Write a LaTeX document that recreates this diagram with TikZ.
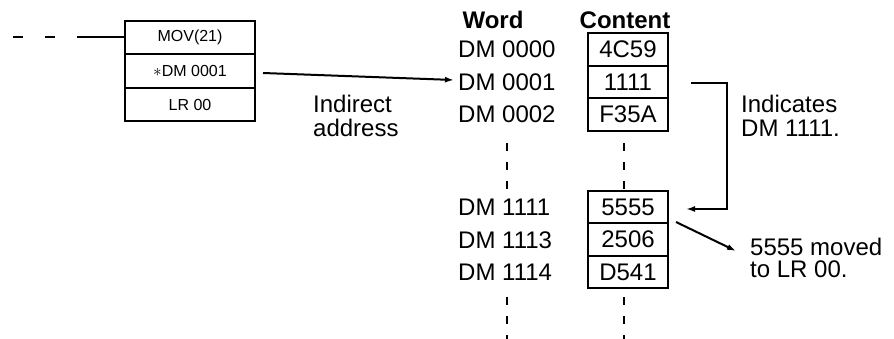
\documentclass[tikz,border=0pt]{standalone}
\usepackage{fontspec}
\setmainfont{Liberation Sans}
\usetikzlibrary{arrows.meta}
\tikzset{
  lbl/.style={anchor=base west, inner sep=0pt, font=\fontsize{24}{24}\selectfont},
  hdr/.style={anchor=base, inner sep=0pt, font=\fontsize{24}{24}\selectfont\bfseries},
  cell/.style={draw, line width=2.2pt, minimum width=80pt, minimum height=32.5pt, inner sep=0pt, font=\fontsize{24}{24}\selectfont},
  instr/.style={draw, line width=2.2pt, minimum width=130pt, minimum height=33.3pt, inner sep=0pt, font=\fontsize{16}{16}\selectfont},
  conn/.style={line width=2pt},
  arr/.style={conn, -{Latex[length=9pt,width=6pt]}},
  vdash/.style={line width=2.2pt, dash pattern=on 8pt off 11pt},
}
\begin{document}
\begin{tikzpicture}[x=1pt,y=-1pt]
\useasboundingbox (0,0) rectangle (894,339);
% instruction block
\node[instr] (mov) at (190,37.5) {MOV(21)};
\node[instr] (src) at (190,71) {$\ast$DM 0001};
\node[instr] (dst) at (190,104.5) {LR 00};
% incoming rung
\coordinate (r0) at (13,37.5);
\coordinate (r1) at (77,37.5);
\draw[conn, dash pattern=on 10pt off 22pt] (r0) -- (r1);
\draw[conn] (r1) -- (mov.west);
% headers
\node[hdr] (hword) at (493,29) {Word};
\node[hdr] (hcont) at (625,29) {Content};
% word labels
\node[lbl] (w0) at (458,58) {DM 0000};
\node[lbl] (w1) at (458,90.5) {DM 0001};
\node[lbl] (w2) at (458,123) {DM 0002};
\node[lbl] (w3) at (458,215.5) {DM 1111};
\node[lbl] (w4) at (458,248) {DM 1113};
\node[lbl] (w5) at (458,280.5) {DM 1114};
% content cells
\node[cell] (c0) at (628,49.5) {4C59};
\node[cell] (c1) at (628,82) {1111};
\node[cell] (c2) at (628,114.5) {F35A};
\node[cell] (c3) at (628,207) {5555};
\node[cell] (c4) at (628,239.5) {2506};
\node[cell] (c5) at (628,272) {D541};
% continuation dashes
\coordinate (dw0) at (507,143); \coordinate (dw1) at (507,189);
\coordinate (dc0) at (624,143); \coordinate (dc1) at (624,189);
\coordinate (dw2) at (507,297); \coordinate (dw3) at (507,339);
\coordinate (dc2) at (624,297); \coordinate (dc3) at (624,339);
\draw[vdash] (dw0) -- (dw1);
\draw[vdash] (dc0) -- (dc1);
\draw[vdash] (dw2) -- (dw3);
\draw[vdash] (dc2) -- (dc3);
% indirect address arrow
\coordinate (a0) at (263,73);
\coordinate (a1) at (454,80);
\draw[arr] (a0) -- (a1);
\node[lbl] (ind1) at (313,113) {Indirect};
\node[lbl] (ind2) at (313,137) {address};
% indicates bracket
\coordinate (b0) at (691,83);
\coordinate (b1) at (727,83);
\coordinate (b2) at (727,209);
\coordinate (b3) at (686,209);
\draw[arr] (b0) -- (b1) -- (b2) -- (b3);
\node[lbl] (indc1) at (741,113) {Indicates};
\node[lbl] (indc2) at (741,137) {DM 1111.};
% moved arrow
\coordinate (m0) at (676,222);
\coordinate (m1) at (736,251);
\draw[arr] (m0) -- (m1);
\node[lbl] (mv1) at (750,255) {5555 moved};
\node[lbl] (mv2) at (750,277.5) {to LR 00.};
\end{tikzpicture}
\end{document}
